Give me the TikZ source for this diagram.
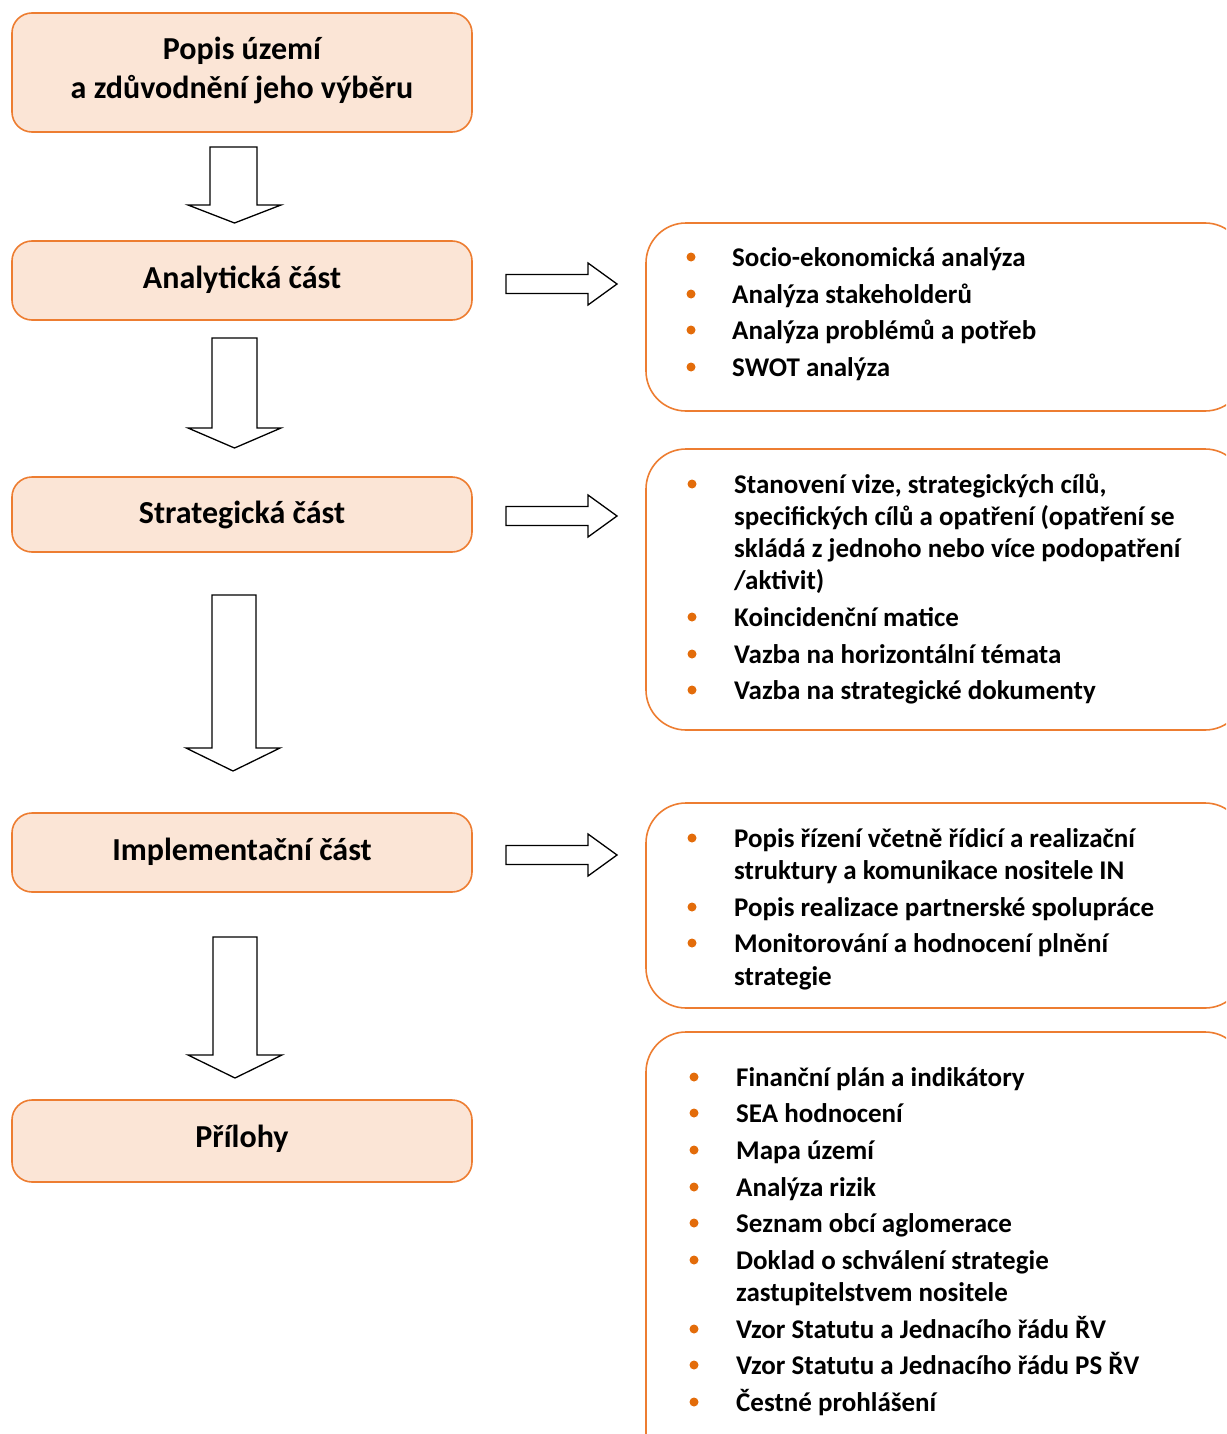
\documentclass[tikz,border=0pt]{standalone}
\usepackage{fontspec}
\setmainfont{Carlito}
\definecolor{orng}{HTML}{ED7D31}
\definecolor{peach}{HTML}{FBE5D6}
\definecolor{bul}{HTML}{E36C0A}
\newcommand\DArrow[7]{% shaft l, shaft r, top, head base, head l, head r, tip
  \draw[bigarrow] (#1,#3) -- (#2,#3) -- (#2,#4) -- (#6,#4) -- ({(#5+#6)/2},#7) -- (#5,#4) -- (#1,#4) -- cycle;}
\newcommand\RArrow[1]{% center y
  \draw[bigarrow] (506,#1-9.5) -- (588,#1-9.5) -- (588,#1-21) -- (617,#1) -- (588,#1+21) -- (588,#1+9.5) -- (506,#1+9.5) -- cycle;}
\begin{document}
\begin{tikzpicture}[x=1pt,y=-1pt,
 leftbox/.style={draw=orng,fill=peach,line width=1.6pt,rounded corners=20pt,minimum width=460pt,inner sep=0pt},
 rightbox/.style={draw=orng,line width=1.6pt,rounded corners=40pt},
 title/.style={font=\fontsize{32}{39}\selectfont\bfseries,anchor=base,inner sep=0pt,yshift=-4pt},
 itemtxt/.style={font=\fontsize{27}{32}\selectfont\bfseries,anchor=base west,inner sep=0pt,yshift=-9.5pt},
 dot/.style={circle,fill=bul,inner sep=0pt,minimum size=9pt},
 bigarrow/.style={draw=black,line width=1.3pt,fill=white,line join=miter}]
\useasboundingbox (0,0) rectangle (1226,1434);
\clip (0,0) rectangle (1226,1434);

% left boxes
\node[leftbox,minimum height=119pt] (b1) at (242,72.5) {};
\node[title] (t1a) at (242,56) {Popis území};
\node[title] (t1b) at (242,95) {a zdůvodnění jeho výběru};
\node[leftbox,minimum height=79pt] (b2) at (242,280.5) {};
\node[title] (t2) at (242,284) {Analytická část};
\node[leftbox,minimum height=75pt] (b3) at (242,514.5) {};
\node[title] (t3) at (242,519) {Strategická část};
\node[leftbox,minimum height=79pt] (b4) at (242,852.5) {};
\node[title] (t4) at (242,856) {Implementační část};
\node[leftbox,minimum height=82pt] (b5) at (242,1141) {};
\node[title] (t5) at (242,1143) {Přílohy};

% down arrows
\DArrow{210}{257}{147}{205}{188}{281}{223}
\DArrow{212}{257}{338}{428}{188}{281}{448}
\DArrow{212}{256}{595}{748}{186}{280}{771}
\DArrow{213}{257}{937}{1055}{188}{282}{1078}

% right arrows
\RArrow{284}
\RArrow{516}
\RArrow{855}

% right boxes
\draw[rightbox] (646,223) rectangle (1245,411);
\draw[rightbox] (646,449) rectangle (1245,730);
\draw[rightbox] (646,803) rectangle (1245,1008);
\draw[rightbox] (646,1032) rectangle (1245,1480);

% box A
\node[dot] (a1d) at (691,257) {};
\node[itemtxt] (a1) at (732,257) {Socio-ekonomická analýza};
\node[dot] (a2d) at (691,294) {};
\node[itemtxt] (a2) at (732,294) {Analýza stakeholderů};
\node[dot] (a3d) at (691,330) {};
\node[itemtxt] (a3) at (732,330) {Analýza problémů a potřeb};
\node[dot] (a4d) at (691,367) {};
\node[itemtxt] (a4) at (732,367) {SWOT analýza};

% box B
\node[dot] (s1d) at (692,484) {};
\node[itemtxt] (s1a) at (734,484) {Stanovení vize, strategických cílů,};
\node[itemtxt] (s1b) at (734,516) {specifických cílů a opatření (opatření se};
\node[itemtxt] (s1c) at (734,548) {skládá z jednoho nebo více podopatření};
\node[itemtxt] (s1e) at (734,580) {/aktivit)};
\node[dot] (s2d) at (692,617) {};
\node[itemtxt] (s2) at (734,617) {Koincidenční matice};
\node[dot] (s3d) at (692,654) {};
\node[itemtxt] (s3) at (734,654) {Vazba na horizontální témata};
\node[dot] (s4d) at (692,690) {};
\node[itemtxt] (s4) at (734,690) {Vazba na strategické dokumenty};

% box C
\node[dot] (i1d) at (692,838) {};
\node[itemtxt] (i1a) at (734,838) {Popis řízení včetně řídicí a realizační};
\node[itemtxt] (i1b) at (734,870) {struktury a komunikace nositele IN};
\node[dot] (i2d) at (692,907) {};
\node[itemtxt] (i2) at (734,907) {Popis realizace partnerské spolupráce};
\node[dot] (i3d) at (692,943) {};
\node[itemtxt] (i3a) at (734,943) {Monitorování a hodnocení plnění};
\node[itemtxt] (i3b) at (734,976) {strategie};

% box D
\node[dot] (p1d) at (694,1077) {};
\node[itemtxt] (p1) at (736,1077) {Finanční plán a indikátory};
\node[dot] (p2d) at (694,1113) {};
\node[itemtxt] (p2) at (736,1113) {SEA hodnocení};
\node[dot] (p3d) at (694,1150) {};
\node[itemtxt] (p3) at (736,1150) {Mapa území};
\node[dot] (p4d) at (694,1187) {};
\node[itemtxt] (p4) at (736,1187) {Analýza rizik};
\node[dot] (p5d) at (694,1223) {};
\node[itemtxt] (p5) at (736,1223) {Seznam obcí aglomerace};
\node[dot] (p6d) at (694,1260) {};
\node[itemtxt] (p6a) at (736,1260) {Doklad o schválení strategie};
\node[itemtxt] (p6b) at (736,1292) {zastupitelstvem nositele};
\node[dot] (p7d) at (694,1329) {};
\node[itemtxt] (p7) at (736,1329) {Vzor Statutu a Jednacího řádu ŘV};
\node[dot] (p8d) at (694,1365) {};
\node[itemtxt] (p8) at (736,1365) {Vzor Statutu a Jednacího řádu PS ŘV};
\node[dot] (p9d) at (694,1402) {};
\node[itemtxt] (p9) at (736,1402) {Čestné prohlášení};
\end{tikzpicture}
\end{document}
